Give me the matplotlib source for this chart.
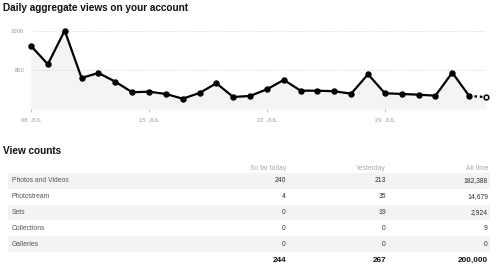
import matplotlib
matplotlib.use("Agg")
import matplotlib.pyplot as plt
from matplotlib.patches import Rectangle
import pandas as pd

plt.rcParams['font.family'] = ['Liberation Sans', 'DejaVu Sans']

# daily views, 08 Jul -> 04 Aug (last day is partial, so it's drawn dashed)
days = pd.date_range('2012-07-08', '2012-08-04')
views = [1292, 917, 1606, 636, 738, 560, 343, 355, 308, 211, 328, 527, 246, 267,
         404, 595, 375, 375, 363, 314, 712, 322, 308, 293, 273, 745, 267, 244]
tick_days = pd.to_datetime(['2012-07-08', '2012-07-15', '2012-07-22', '2012-07-29'])
tick_labels = ['08  JUL', '15  JUL', '22  JUL', '29  JUL']
y_ticks = [800, 1600]

# view counts table
row_labels = ['Photos and Videos', 'Photostream', 'Sets', 'Collections', 'Galleries']
col_labels = ['So far today', 'Yesterday', 'All time']
so_far_today = [240, 4, 0, 0, 0]
yesterday = [213, 35, 19, 0, 0]
all_time = [182388, 14679, 2924, 9, 0]

W, H = 500, 271
fig = plt.figure(figsize=(W / 100, H / 100), dpi=100)


def fx(px):
    return px / W


def fy(py):
    return 1 - py / H


fig.text(fx(3), fy(8), 'Daily aggregate views on your account', fontsize=7.2,
         fontweight='bold', color='#111111', va='center', ha='left')

# --- line chart ---
ax = fig.add_axes([fx(31), fy(109), fx(486) - fx(31), fy(25) - fy(109)])
ax.fill_between(days, views, 0, color='#f4f4f4', lw=0)
ax.plot(days[:-1], views[:-1], color='black', lw=1.6, marker='o', ms=3.6,
        clip_on=False, zorder=3)
ax.plot(days[-2:], views[-2:], color='black', lw=1.6, ls=(0, (1.2, 1.2)), zorder=3,
        clip_on=False)
ax.plot(days[-1:], views[-1:], ls='none', marker='o', ms=3.4, mfc='white',
        mec='black', mew=1.1, clip_on=False, zorder=4)

ax.set_xlim(days[0], days[-1])
ax.set_ylim(0, 1720)
for v in y_ticks:
    ax.axhline(v, color='#dddddd', lw=0.7, ls=(0, (1.5, 1.5)), zorder=1)
ax.set_yticks(y_ticks)
ax.set_yticklabels([str(v) for v in y_ticks])
ax.set_xticks(tick_days)
ax.set_xticklabels(tick_labels)
ax.tick_params(axis='y', length=0, pad=5, labelsize=4.2, labelcolor='#999999')
ax.tick_params(axis='x', length=2.5, width=0.6, color='#bbbbbb', pad=4,
               labelsize=4.2, labelcolor='#999999')
for s in ax.spines.values():
    s.set_visible(False)
ax.patch.set_alpha(0)

# --- view counts table ---
fig.text(fx(3), fy(151), 'View counts', fontsize=7.2, fontweight='bold',
         color='#111111', va='center', ha='left')

col_right = [286, 386, 488]
for x, c in zip(col_right, col_labels):
    fig.text(fx(x), fy(168), c, fontsize=4.9, color='#aaaaaa', ha='right', va='center')

row_h = 15.8
top = 173
for i, lab in enumerate(row_labels):
    y0 = top + i * row_h
    if i % 2 == 0:
        fig.patches.append(Rectangle((fx(8), fy(y0 + row_h)), fx(490) - fx(8),
                                     row_h / H, transform=fig.transFigure,
                                     color='#f3f3f3', lw=0, zorder=0))
    yc = y0 + row_h / 2
    fig.text(fx(12), fy(yc), lab, fontsize=4.9, color='#555555', ha='left', va='center')
    vals = [so_far_today[i], yesterday[i], all_time[i]]
    for x, v in zip(col_right, vals):
        fig.text(fx(x), fy(yc), f'{v:,}', fontsize=4.9, color='#333333',
                 ha='right', va='center')

totals = [sum(so_far_today), sum(yesterday), sum(all_time)]
for x, v in zip(col_right, totals):
    fig.text(fx(x), fy(260), f'{v:,}', fontsize=5.9, fontweight='bold',
             color='#111111', ha='right', va='center')

fig.savefig('out.png', dpi=100, facecolor='white')
